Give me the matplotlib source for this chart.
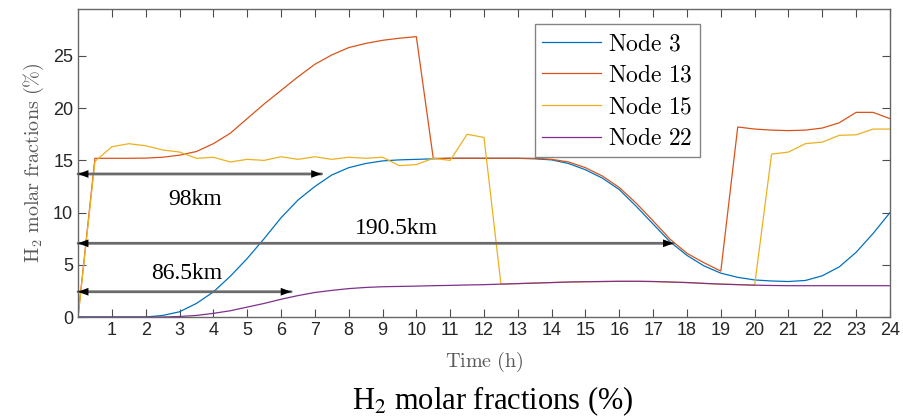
import matplotlib.pyplot as plt
import numpy as np
from matplotlib.font_manager import FontProperties

plt.rcParams['mathtext.fontset'] = 'cm'

# time axis, half-hour steps
hours = np.arange(0, 24.5, 0.5)

node3 = [0, 0, 0, 0, 0, 0.15, 0.5, 1.3, 2.4, 3.9, 5.6, 7.5, 9.5, 11.2, 12.5, 13.6, 14.3,
         14.7, 14.95, 15.05, 15.1, 15.15, 15.2, 15.2, 15.2, 15.2, 15.2, 15.15, 15.05, 14.7,
         14.1, 13.3, 12.2, 10.6, 8.9, 7.2, 5.9, 4.9, 4.2, 3.8, 3.55, 3.45, 3.4, 3.5, 3.95,
         4.8, 6.2, 8.0, 10.0]
node13 = [0, 15.2, 15.2, 15.2, 15.22, 15.3, 15.5, 15.85, 16.6, 17.6, 19.0, 20.4, 21.7, 23.0,
          24.2, 25.1, 25.8, 26.2, 26.5, 26.7, 26.85, 15.2, 15.2, 15.2, 15.2, 15.2, 15.2, 15.2,
          15.1, 14.85, 14.3, 13.5, 12.4, 10.9, 9.2, 7.45, 6.1, 5.2, 4.4, 18.2, 18.0, 17.9,
          17.85, 17.9, 18.1, 18.6, 19.6, 19.6, 19.0]
node22 = [0, 0, 0, 0, 0, 0, 0.05, 0.15, 0.35, 0.6, 0.95, 1.3, 1.7, 2.05, 2.35, 2.55, 2.72,
          2.83, 2.9, 2.93, 2.96, 3.0, 3.03, 3.07, 3.1, 3.15, 3.2, 3.25, 3.3, 3.35, 3.38, 3.4,
          3.42, 3.42, 3.4, 3.35, 3.3, 3.22, 3.15, 3.1, 3.05, 3.02, 3.0, 3.0, 3.0, 3.0, 3.0,
          3.0, 3.0]
node15 = [0, 14.9, 16.3, 16.6, 16.4, 16.0, 15.8, 15.2, 15.3, 14.85, 15.1, 15.0, 15.35, 15.1,
          15.35, 15.1, 15.3, 15.2, 15.3, 14.5, 14.6, 15.2, 15.0, 17.5, 17.2, 3.15, 3.2, 3.25,
          3.3, 3.35, 3.38, 3.4, 3.42, 3.42, 3.4, 3.35, 3.3, 3.22, 3.15, 3.1, 3.05, 15.6, 15.8,
          16.6, 16.75, 17.4, 17.45, 18.0, 18.0]

labels = ['Node 3', 'Node 13', 'Node 15', 'Node 22']
colors = ['#0072BD', '#D95319', '#EDB120', '#7E2F8E']

# distance arrows: (label, y, x_end, text_x, text_y)
arrows = [('98km', 13.7, 7.2, 3.45, 11.3),
          ('190.5km', 7.06, 17.6, 9.4, 8.5),
          ('86.5km', 2.42, 6.3, 3.2, 4.2)]

fig = plt.figure(figsize=(9.04, 4.2), dpi=100)
ax = fig.add_axes([0.0863, 0.2452, 0.8982, 0.7334])

for ys, c, lab in zip([node3, node13, node15, node22], colors, labels):
    ax.plot(hours, ys, color=c, lw=0.9, label=r'$\mathrm{' + lab.replace(' ', r'\ ') + '}$')

for txt, y, xe, tx, ty in arrows:
    ax.annotate('', xy=(xe, y), xytext=(0, y),
                arrowprops=dict(arrowstyle='-', color='0.42', lw=2.0, shrinkA=0, shrinkB=0))
    ax.annotate('', xy=(xe, y), xytext=(0, y),
                arrowprops=dict(arrowstyle='<|-|>,head_length=0.75,head_width=0.28',
                                color='black', lw=0, shrinkA=0, shrinkB=0))
    ax.text(tx, ty, txt, family='Liberation Serif', fontsize=17, ha='center', va='center')

ax.set_xlim(0, 24)
ax.set_ylim(0, 29.5)
ax.set_xticks(np.arange(1, 25, 1))
ax.set_yticks([0, 5, 10, 15, 20, 25])
ax.tick_params(direction='in', length=5.5, top=True, right=True, color='0.3',
               labelsize=13, labelcolor='#262626')
for lbl in ax.get_xticklabels() + ax.get_yticklabels():
    lbl.set_family('Liberation Sans')
for s in ax.spines.values():
    s.set_color('0.4')
    s.set_linewidth(1.0)

ax.set_xlabel(r'$\mathrm{Time\ (h)}$', fontsize=14.5, color='0.35', labelpad=8)
ax.set_ylabel(r'$\mathrm{H_2\ molar\ fractions\ (\%)}$', fontsize=14.5, color='0.35', labelpad=5)

leg = ax.legend(loc='upper left', bbox_to_anchor=(0.563, 0.951), borderaxespad=0,
                prop=FontProperties(size=17, math_fontfamily='cm'), fancybox=False,
                edgecolor='0.4', handlelength=2.5, handletextpad=0.3, labelspacing=0.32,
                borderpad=0.3)
leg.get_frame().set_linewidth(1.0)

fig.text(0.545, 0.045, 'H$_2$ molar fractions (%)', family='Liberation Serif',
         math_fontfamily='stix', fontsize=22, ha='center', va='center')

fig.savefig('out.png', dpi=100)
